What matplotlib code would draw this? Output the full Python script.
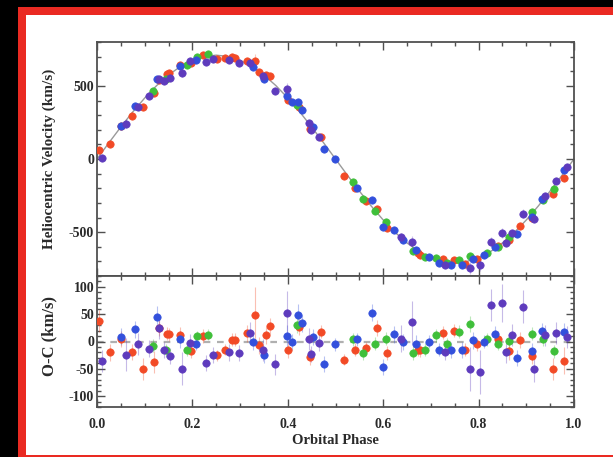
import matplotlib
matplotlib.use("Agg")
import matplotlib.pyplot as plt
from matplotlib.patches import Rectangle
from matplotlib.ticker import MultipleLocator, FixedLocator
import numpy as np

plt.rcParams['font.family'] = ['Liberation Serif', 'DejaVu Serif']
plt.rcParams['axes.unicode_minus'] = False

# ---------------- data ----------------
# model curve (heliocentric velocity, km/s) sampled every 0.025 in phase
model_phase = [0.0, 0.025, 0.05, 0.075, 0.1, 0.125, 0.15, 0.175, 0.2, 0.225, 0.25,
               0.275, 0.3, 0.325, 0.35, 0.375, 0.4, 0.425, 0.45, 0.475, 0.5,
               0.525, 0.55, 0.575, 0.6, 0.625, 0.65, 0.675, 0.7, 0.725, 0.75,
               0.775, 0.8, 0.825, 0.85, 0.875, 0.9, 0.925, 0.95, 0.975, 1.0]
model_rv = [0, 111, 219, 322, 417, 502, 574, 633, 675, 701, 710,
            701, 675, 633, 574, 502, 417, 322, 219, 111, 0,
            -111, -219, -322, -417, -502, -574, -633, -675, -701, -710,
            -701, -675, -633, -574, -502, -417, -322, -219, -111, 0]

red_phase = [0.005, 0.027, 0.050, 0.073, 0.096, 0.120, 0.130, 0.146, 0.151, 0.173, 0.198,
             0.223, 0.252, 0.268, 0.284, 0.290, 0.314, 0.331, 0.340, 0.354, 0.363, 0.400,
             0.424, 0.447, 0.470, 0.518, 0.541, 0.564, 0.586, 0.609, 0.672, 0.677, 0.725,
             0.749, 0.771, 0.796, 0.841, 0.864, 0.887, 0.912, 0.957, 0.979]
red_rv = [60, 100, 224, 295, 353, 448, 543, 578, 590, 641, 654,
          710, 685, 690, 697, 691, 668, 669, 592, 575, 566, 401,
          353, 204, 151, -113, -196, -290, -340, -470, -642, -653, -685,
          -690, -719, -686, -592, -553, -460, -400, -240, -128]
red_oc = [38, -20, 5, -19, -50, -38, 25, 14, 13, 12, -18,
          10, -25, -15, 3, 3, 15, 49, -7, 11, 28, -16,
          27, -28, 18, -33, -15, -12, 25, -21, -15, -16, 16,
          20, -15, -5, 5, -18, 3, -27, -50, -35]
red_err = [20, 15, 15, 15, 20, 20, 15, 12, 12, 15, 12,
           12, 10, 10, 12, 12, 15, 50, 15, 15, 15, 15,
           15, 15, 12, 10, 12, 12, 15, 12, 12, 12, 12,
           12, 12, 12, 15, 15, 15, 15, 20, 25]

green_phase = [0.117, 0.145, 0.188, 0.210, 0.233, 0.420, 0.536, 0.558, 0.583, 0.606, 0.663,
               0.688, 0.711, 0.733, 0.758, 0.782, 0.818, 0.840, 0.864, 0.911, 0.934, 0.958]
green_rv = [468, 545, 642, 698, 718, 372, -155, -274, -358, -434, -628,
            -672, -678, -711, -691, -664, -642, -603, -534, -363, -282, -203]
green_oc = [-8, -16, -15, 10, 12, 30, 4, -21, -4, 5, -21,
            -15, 11, -5, 18, 32, 4, -4, 1, 14, 4, -18]
green_err = [12, 12, 12, 10, 10, 15, 12, 12, 12, 12, 12,
             12, 12, 12, 12, 15, 12, 12, 12, 12, 12, 12]

blue_phase = [0.050, 0.080, 0.126, 0.174, 0.207, 0.326, 0.351, 0.398, 0.408, 0.421, 0.430,
              0.452, 0.476, 0.499, 0.546, 0.577, 0.600, 0.623, 0.642, 0.669, 0.695, 0.718,
              0.742, 0.765, 0.789, 0.811, 0.834, 0.880, 0.911, 0.932, 0.979]
blue_rv = [228, 364, 550, 635, 680, 631, 547, 434, 387, 387, 335,
           219, 66, -1, -198, -277, -464, -483, -554, -624, -668, -711,
           -724, -722, -687, -658, -599, -516, -395, -275, -75]
blue_oc = [9, 22, 45, 4, -4, 0, -25, 10, -1, 49, 33,
           8, -41, -5, 4, 53, -47, 13, -1, -4, 0, -15,
           -15, -15, 2, 0, 14, -30, -18, 19, 18]
blue_err = [15, 15, 20, 15, 12, 15, 15, 20, 15, 20, 15,
            15, 15, 12, 12, 15, 15, 15, 15, 15, 12, 12,
            15, 15, 15, 12, 15, 15, 15, 15, 15]

purple_phase = [0.010, 0.061, 0.085, 0.108, 0.131, 0.141, 0.153, 0.178, 0.196, 0.229, 0.243,
                0.277, 0.298, 0.321, 0.347, 0.373, 0.398, 0.445, 0.449, 0.466, 0.637, 0.661,
                0.730, 0.781, 0.803, 0.825, 0.850, 0.857, 0.869, 0.894, 0.916, 0.939, 0.962,
                0.986]
purple_rv = [9, 242, 356, 433, 546, 534, 555, 589, 668, 665, 684,
             680, 657, 655, 567, 466, 477, 245, 201, 148, -533, -567,
             -723, -747, -727, -566, -504, -575, -509, -375, -408, -255, -152,
             -54]
purple_oc = [-36, -24, -5, -13, 25, -16, -27, -50, -2, -39, -25,
             -20, -21, 15, -15, -42, 53, 5, -23, -3, 5, 35,
             -19, -50, -56, 67, 70, -19, 12, 64, -50, 11, 16,
             8]
purple_err = [20, 30, 20, 15, 20, 15, 15, 30, 15, 15, 15,
              15, 15, 20, 20, 20, 40, 20, 15, 15, 25, 40,
              15, 40, 40, 30, 35, 20, 20, 30, 25, 20, 20,
              20]

x_ticks = [0.0, 0.2, 0.4, 0.6, 0.8, 1.0]
x_ticklabels = ['0.0', '0.2', '0.4', '0.6', '0.8', '1.0']
top_yticks = [-500, 0, 500]
bot_yticks = [-100, -50, 0, 50, 100]

series = [
    (red_phase, red_rv, red_oc, red_err, '#f24a26'),
    (green_phase, green_rv, green_oc, green_err, '#3fbf3a'),
    (blue_phase, blue_rv, blue_oc, blue_err, '#3350dc'),
    (purple_phase, purple_rv, purple_oc, purple_err, '#5e3bbd'),
]

# ---------------- figure ----------------
W, H = 613, 457
fig = plt.figure(figsize=(W / 100, H / 100), dpi=100, facecolor='black')

def px_rect(x0, y0, x1, y1, color, z):
    fig.patches.append(Rectangle((x0 / W, 1 - y1 / H), (x1 - x0) / W, (y1 - y0) / H,
                                 transform=fig.transFigure, facecolor=color,
                                 edgecolor='none', zorder=z))

px_rect(18, 7, W, H, '#ea2a22', -3)
px_rect(26, 15, W, 455, 'white', -2)

spine_c = '#505050'
ax1 = fig.add_axes([97 / W, 1 - 276 / H, 477 / W, 234 / H])
ax2 = fig.add_axes([97 / W, 1 - 407 / H, 477 / W, 131 / H])

ax1.plot(model_phase, model_rv, color='#9a9a9a', lw=1.0, zorder=1)
ax2.axhline(0, color='#b0b0b0', lw=1.6, ls=(0, (3, 3)), zorder=1)

for ph, rv, oc, err, col in series:
    e1 = ax1.errorbar(ph, rv, yerr=err, fmt='o', ms=5.3, mfc=col, mec=col, mew=0.5,
                      ecolor=col, elinewidth=0.8, capsize=0, zorder=3)
    for lc in e1[2]:
        lc.set_alpha(0.3)
    e2 = ax2.errorbar(ph, oc, yerr=err, fmt='o', ms=5.3, mfc=col, mec=col, mew=0.5,
                      ecolor=col, elinewidth=0.8, capsize=0, zorder=3)
    for lc in e2[2]:
        lc.set_alpha(0.35)

for ax in (ax1, ax2):
    ax.set_xlim(0, 1)
    ax.xaxis.set_major_locator(FixedLocator(x_ticks))
    ax.xaxis.set_minor_locator(MultipleLocator(0.05))
    ax.tick_params(which='both', direction='in', top=True, right=True,
                   color=spine_c, width=1.0)
    ax.tick_params(which='major', length=6)
    ax.tick_params(which='minor', length=3)
    for s in ax.spines.values():
        s.set_color(spine_c)
        s.set_linewidth(1.3)
    ax.set_facecolor('white')

ax1.set_ylim(-800, 800)
ax1.yaxis.set_major_locator(FixedLocator(top_yticks))
ax1.yaxis.set_minor_locator(MultipleLocator(100))
ax1.tick_params(axis='x', labelbottom=False)

ax2.set_ylim(-120, 120)
ax2.yaxis.set_major_locator(FixedLocator(bot_yticks))
ax2.yaxis.set_minor_locator(MultipleLocator(10))
ax2.set_xticklabels(x_ticklabels)

for ax in (ax1, ax2):
    ax.tick_params(axis='y', pad=2, labelsize=10, labelcolor='#2a2a2a')
    ax.tick_params(axis='x', pad=8, labelsize=10, labelcolor='#2a2a2a')
    for lab in ax.get_xticklabels() + ax.get_yticklabels():
        lab.set_fontweight('bold')

fig.text(49 / W, 1 - 159 / H, 'Heliocentric Velocity (km/s)', rotation=90,
         ha='center', va='center', fontsize=11, fontweight='bold', color='#2a2a2a')
fig.text(49 / W, 1 - 336 / H, 'O-C (km/s)', rotation=90,
         ha='center', va='center', fontsize=12, fontweight='bold', color='#2a2a2a')
fig.text(335 / W, 1 - 440 / H, 'Orbital Phase', ha='center', va='center',
         fontsize=10.5, fontweight='bold', color='#2a2a2a')

fig.savefig('out.png', dpi=100, facecolor='black')
